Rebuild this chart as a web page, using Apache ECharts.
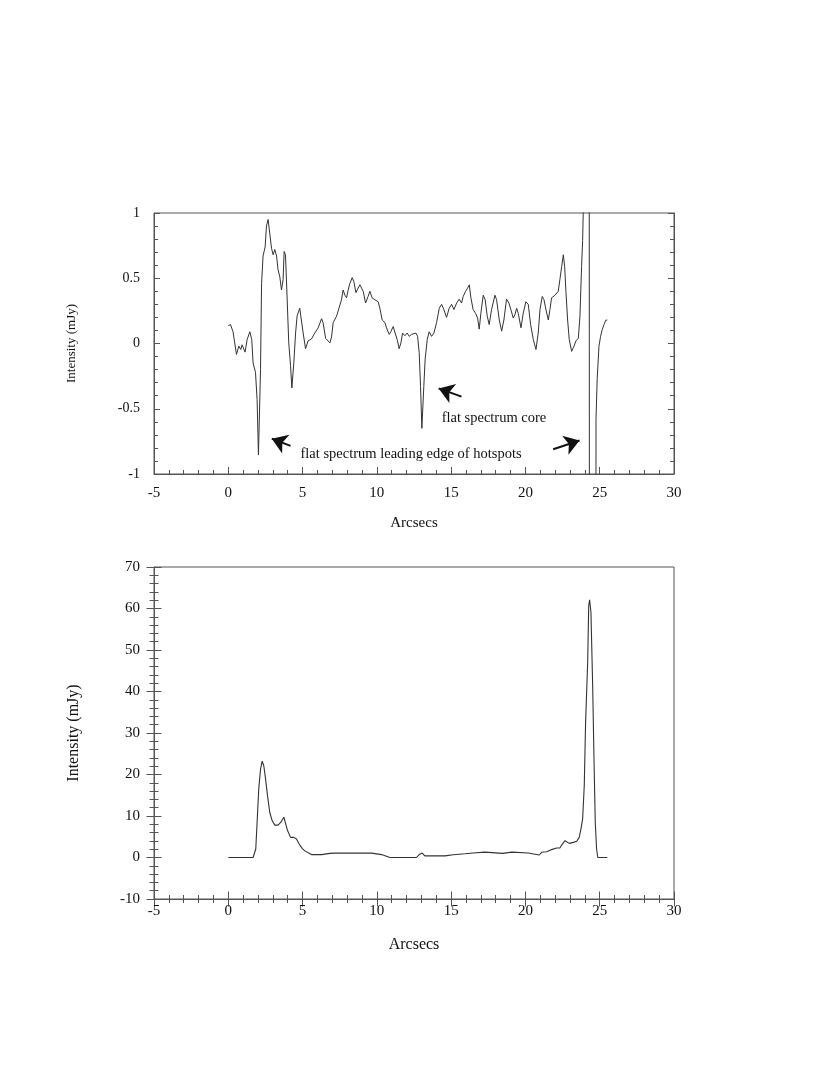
<!DOCTYPE html>
<html>
<head>
<meta charset="utf-8">
<script src="https://cdn.jsdelivr.net/npm/echarts@6/dist/echarts.min.js"></script>
<style>
html, body { margin: 0; background: #fff; }
#chart { width: 830px; height: 1075px; }
</style>
</head>
<body>
<div id="chart"></div>
<script>
// top panel: spectral index profile (off-scale points at the hotspot are clipped by the grid)
const topX = [0.0, 0.15, 0.32, 0.55, 0.71, 0.84, 0.93, 1.13, 1.27, 1.45, 1.58, 1.67, 1.83, 1.94, 2.03, 2.17, 2.24, 2.34, 2.48, 2.57,
  2.68, 2.79, 2.91, 3.02, 3.13, 3.25, 3.35, 3.47, 3.58, 3.69, 3.76, 3.85, 3.94, 4.07, 4.19, 4.28, 4.41, 4.53, 4.63, 4.81,
  4.90, 5.04, 5.2, 5.37, 5.6, 5.82, 6.05, 6.28, 6.38, 6.55, 6.68, 6.84, 6.95, 7.06, 7.29, 7.39, 7.62, 7.73, 7.85, 7.96,
  8.07, 8.18, 8.34, 8.45, 8.59, 8.74, 8.86, 8.97, 9.08, 9.24, 9.41, 9.53, 9.68, 9.87, 10.09, 10.2, 10.36, 10.54, 10.65, 10.83,
  10.94, 11.1, 11.23, 11.37, 11.5, 11.62, 11.73, 11.89, 12.04, 12.18, 12.34, 12.44, 12.63, 12.74, 12.85, 12.94, 13.03, 13.16, 13.25, 13.39,
  13.52, 13.68, 13.84, 14.02, 14.2, 14.36, 14.51, 14.69, 14.87, 15.03, 15.19, 15.37, 15.54, 15.7, 15.81, 15.97, 16.11, 16.22, 16.33, 16.48,
  16.65, 16.78, 16.89, 17.0, 17.16, 17.29, 17.43, 17.56, 17.72, 17.95, 18.06, 18.24, 18.4, 18.55, 18.73, 18.89, 19.02, 19.18, 19.29, 19.41,
  19.52, 19.7, 19.85, 20.03, 20.19, 20.35, 20.53, 20.71, 20.86, 20.98, 21.13, 21.25, 21.38, 21.54, 21.65, 21.76, 21.99, 22.21, 22.32, 22.44,
  22.55, 22.64, 22.73, 22.84, 22.95, 23.11, 23.27, 23.4, 23.56, 23.67, 23.78, 23.85, 23.89, 23.95, 24.28, 24.32, 24.73, 24.75, 24.83, 24.95,
  25.06, 25.17, 25.29, 25.4, 25.51];
const topY = [0.137, 0.145, 0.09, -0.084, -0.02, -0.046, -0.01, -0.066, 0.03, 0.09, 0.03, -0.15, -0.22, -0.43, -0.855, -0.2, 0.46, 0.67, 0.74, 0.9,
  0.95, 0.845, 0.73, 0.68, 0.72, 0.67, 0.565, 0.51, 0.41, 0.49, 0.705, 0.68, 0.41, 0.005, -0.17, -0.34, -0.15, 0.08, 0.21, 0.27,
  0.26, 0.08, -0.04, 0.02, 0.035, 0.08, 0.12, 0.19, 0.16, 0.04, 0.035, 0.005, 0.05, 0.16, 0.21, 0.22, 0.335, 0.41, 0.37, 0.35,
  0.41, 0.46, 0.505, 0.475, 0.39, 0.425, 0.45, 0.455, 0.4, 0.31, 0.36, 0.4, 0.35, 0.335, 0.32, 0.27, 0.18, 0.16, 0.12, 0.07,
  0.09, 0.13, 0.08, 0.03, -0.04, 0.005, 0.08, 0.06, 0.08, 0.055, 0.07, 0.055, 0.08, 0.055, -0.07, -0.33, -0.65, -0.33, -0.12, 0.03,
  0.09, 0.055, 0.08, 0.16, 0.27, 0.3, 0.26, 0.2, 0.27, 0.3, 0.26, 0.31, 0.34, 0.31, 0.36, 0.4, 0.425, 0.45, 0.35, 0.26,
  0.23, 0.195, 0.11, 0.23, 0.37, 0.335, 0.21, 0.145, 0.26, 0.37, 0.335, 0.18, 0.095, 0.18, 0.34, 0.31, 0.26, 0.195, 0.22, 0.27,
  0.23, 0.12, 0.23, 0.32, 0.3, 0.145, 0.03, -0.046, 0.08, 0.26, 0.36, 0.335, 0.26, 0.18, 0.26, 0.35, 0.37, 0.4, 0.49, 0.59,
  0.68, 0.59, 0.39, 0.18, 0.03, -0.06, -0.02, 0.02, 0.04, 0.21, 0.59, 0.79, 1.0, 6, 6, -6, -6, -0.58, -0.27, -0.02,
  0.055, 0.107, 0.145, 0.178, 0.18];

// bottom panel: total intensity profile (mJy)
const botX = [0, 1.67, 1.85, 1.94, 2.05, 2.17, 2.28, 2.39, 2.51, 2.64, 2.79, 2.95, 3.13, 3.35, 3.54, 3.74, 3.87, 3.99, 4.19, 4.41,
  4.59, 4.77, 4.97, 5.15, 5.27, 5.6, 6.28, 6.38, 6.84, 6.95, 7.17, 9.64, 9.75, 10.32, 10.42, 10.88, 12.67, 12.85, 13.05, 13.23,
  14.36, 14.46, 14.58, 15.14, 15.93, 16.48, 16.6, 17.27, 17.39, 18.46, 18.55, 19.09, 19.18, 20.19, 20.3, 20.93, 21.09, 21.43, 21.76, 21.86,
  22.1, 22.32, 22.44, 22.66, 22.77, 22.95, 23.22, 23.45, 23.62, 23.74, 23.85, 23.96, 24.05, 24.19, 24.26, 24.32, 24.41, 24.53, 24.61, 24.7,
  24.79, 24.87, 25.51];
const botY = [0, 0, 2.05, 8.5, 16.5, 21.3, 23.2, 22.1, 18.9, 14.9, 10.9, 8.9, 7.8, 7.8, 8.5, 9.7, 9.3, 6.5, 4.85, 4.85,
  4.45, 3.25, 2.2, 1.6, 1.4, 0.7, 0.7, 1.05, 1.0, 0.7, 1.05, 1.05, 0.9, 0.7, 0.3, 0, 0, 0.7, 1.08, 0.4,
  0.4, 0.7, 0.4, 0.68, 0.9, 1.08, 1.3, 1.3, 1.0, 1.0, 1.3, 1.3, 1.08, 1.08, 0.6, 0.6, 1.25, 1.4, 1.9, 2.05,
  2.3, 2.3, 3.0, 4.05, 3.9, 3.4, 3.65, 3.9, 4.85, 6.9, 9.3, 17.3, 32.6, 47.1, 60.7, 62.1, 59.1, 40.6, 24.6, 8.5,
  2.05, 0, 0];

// axis ticks
const xTicks = [-5, 0, 5, 10, 15, 20, 25, 30];
const topYTicks = [-1, -0.5, 0, 0.5, 1];
const botYTicks = [-10, 0, 10, 20, 30, 40, 50, 60, 70];

// annotations (data coordinates of the top panel)
const arrows = [
  [[4.19, -0.785], [2.93, -0.729]],
  [[15.7, -0.407], [14.16, -0.344]],
  [[21.87, -0.81], [23.64, -0.743]]
];
const notes = [
  { text: 'flat spectrum leading edge of hotspots', at: [4.86, -0.848] },
  { text: 'flat spectrum core', at: [14.36, -0.57] }
];

const FONT = 'Liberation Serif';
const INK = '#111';
const AXIS = '#555';

const chart = echarts.init(document.getElementById('chart'));

function range(ticks) {
  return { min: ticks[0], max: ticks[ticks.length - 1], interval: ticks[1] - ticks[0] };
}

// one axis; "overlay" axes only add the inner half of crossing ticks
function axis(gridIndex, ticks, opts) {
  const o = Object.assign({ inside: true, tick: 7, minor: 4, label: true, line: true, margin: 10, fontSize: 15 }, opts);
  return Object.assign({
    type: 'value',
    gridIndex: gridIndex,
    position: o.position,
    splitLine: { show: false },
    axisLine: { show: o.line, onZero: false, lineStyle: { color: AXIS, width: 1 } },
    axisTick: { show: true, inside: o.inside, length: o.tick, lineStyle: { color: AXIS, width: 1 } },
    minorTick: { show: true, splitNumber: 5, length: o.minor, lineStyle: { color: AXIS, width: 1 } },
    axisLabel: { show: o.label, margin: o.margin, fontSize: o.fontSize, fontFamily: FONT, color: INK },
    name: o.name || '',
    nameLocation: 'middle',
    nameGap: o.nameGap,
    nameTextStyle: { fontFamily: FONT, fontSize: o.nameSize, color: INK }
  }, range(ticks));
}

function pairs(xs, ys) {
  return xs.map((x, i) => [x, ys[i]]);
}

chart.setOption({
  animation: false,
  backgroundColor: '#fff',
  grid: [
    { left: 154, right: 156, top: 213, height: 261, show: true, borderColor: AXIS, borderWidth: 1 },
    { left: 154, right: 156, top: 567, height: 332, show: true, borderColor: AXIS, borderWidth: 1 }
  ],
  xAxis: [
    axis(0, xTicks, { position: 'bottom', tick: 7, margin: 12, name: 'Arcsecs', nameGap: 42, nameSize: 15 }),
    axis(1, xTicks, { position: 'bottom', inside: false, tick: 7.5, minor: 4, margin: 5, name: 'Arcsecs', nameGap: 38, nameSize: 16 }),
    axis(1, xTicks, { position: 'bottom', inside: true, tick: 7.5, minor: 4, label: false, line: false })
  ],
  yAxis: [
    axis(0, topYTicks, { position: 'left', tick: 6, margin: 14, fontSize: 14, name: 'Intensity (mJy)', nameGap: 76, nameSize: 13 }),
    axis(0, topYTicks, { position: 'right', tick: 6, label: false }),
    axis(1, botYTicks, { position: 'left', inside: false, tick: 7.5, minor: 4.5, margin: 14, name: 'Intensity (mJy)', nameGap: 72, nameSize: 16 }),
    axis(1, botYTicks, { position: 'left', inside: true, tick: 7.5, minor: 4.5, label: false, line: false })
  ],
  series: [
    {
      type: 'line',
      xAxisIndex: 0,
      yAxisIndex: 0,
      data: pairs(topX, topY),
      showSymbol: false,
      clip: true,
      lineStyle: { color: '#333', width: 1 },
      silent: true,
      markLine: {
        silent: true,
        symbol: ['none', 'arrow'],
        symbolSize: 15,
        label: { show: false },
        lineStyle: { color: INK, width: 2, type: 'solid' },
        emphasis: { disabled: true },
        data: arrows.map(a => [{ coord: a[0] }, { coord: a[1] }])
      },
      markPoint: {
        silent: true,
        symbol: 'circle',
        symbolSize: 0,
        label: {
          show: true, position: 'right', distance: 0, formatter: '{b}',
          fontFamily: FONT, fontSize: 14.5, color: INK
        },
        data: notes.map(n => ({ name: n.text, coord: n.at }))
      }
    },
    {
      type: 'line',
      xAxisIndex: 1,
      yAxisIndex: 2,
      data: pairs(botX, botY),
      showSymbol: false,
      lineStyle: { color: '#333', width: 1.1 },
      silent: true
    }
  ]
});
</script>
</body>
</html>
